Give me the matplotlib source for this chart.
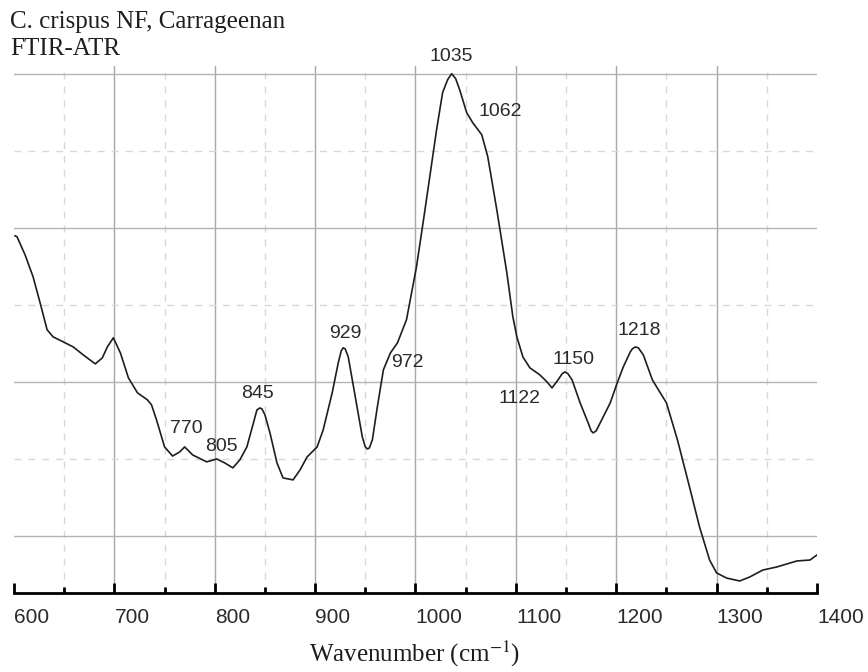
import matplotlib
matplotlib.use("Agg")
import matplotlib.pyplot as plt

# FTIR-ATR spectrum (wavenumber, arbitrary absorbance)
wavenumber = [601, 603, 611, 619, 626, 633, 639, 649, 659, 669, 681, 688, 693, 699,
              706, 714, 723, 733, 737, 742, 750, 758, 765, 770, 778, 792, 802, 810,
              818, 825, 832, 838, 842, 845, 847, 850, 855, 862, 868, 878, 885, 892,
              902, 908, 917, 923, 926, 928, 930, 933, 940, 947, 950, 952, 954, 957,
              962, 968, 975, 982, 991, 1001, 1009, 1021, 1027, 1032, 1036, 1040, 1044,
              1051, 1057, 1066, 1072, 1081, 1091, 1097, 1101, 1107, 1114, 1124, 1131,
              1136, 1142, 1146, 1149, 1152, 1156, 1164, 1172, 1175, 1177, 1180, 1184,
              1194, 1201, 1207, 1214, 1216, 1219, 1222, 1227, 1236, 1250, 1261, 1273,
              1283, 1293, 1300, 1310, 1323, 1333, 1346, 1360, 1380, 1393, 1400]
absorbance = [0.1948, 0.1942, 0.1825, 0.1682, 0.1513, 0.1338, 0.1292, 0.1260, 0.1227,
              0.1175, 0.1117, 0.1156, 0.1227, 0.1286, 0.1188, 0.1026, 0.0929, 0.0883,
              0.0851, 0.0753, 0.0578, 0.0519, 0.0545, 0.0578, 0.0526, 0.0481, 0.0500,
              0.0474, 0.0442, 0.0494, 0.0578, 0.0721, 0.0818, 0.0831, 0.0825, 0.0786,
              0.0669, 0.0474, 0.0377, 0.0364, 0.0429, 0.0513, 0.0578, 0.0688, 0.0929,
              0.1123, 0.1201, 0.1221, 0.1214, 0.1162, 0.0903, 0.0643, 0.0578, 0.0565,
              0.0571, 0.0623, 0.0838, 0.1078, 0.1188, 0.1253, 0.1403, 0.1747, 0.2097,
              0.2636, 0.2877, 0.2961, 0.3000, 0.2968, 0.2896, 0.2747, 0.2682, 0.2604,
              0.2461, 0.2117, 0.1708, 0.1422, 0.1292, 0.1162, 0.1091, 0.1045, 0.1000,
              0.0961, 0.1013, 0.1052, 0.1065, 0.1052, 0.1013, 0.0864, 0.0734, 0.0682,
              0.0669, 0.0682, 0.0734, 0.0864, 0.0994, 0.1097, 0.1195, 0.1214, 0.1227,
              0.1221, 0.1175, 0.1013, 0.0864, 0.0623, 0.0318, 0.0058, -0.0156, -0.0240,
              -0.0273, -0.0292, -0.0266, -0.0221, -0.0201, -0.0162, -0.0156, -0.0123]

# peak labels and where they sit
peak_labels = ["1035", "1062", "929", "972", "845", "770", "805", "1122", "1150", "1218"]
label_x = [1036, 1084, 930, 992, 843, 772, 807, 1104, 1157, 1223]
label_y = [0.311, 0.2753, 0.1312, 0.1123, 0.0922, 0.0695, 0.0578, 0.0890, 0.1143, 0.1331]

x_major = [600, 700, 800, 900, 1000, 1100, 1200, 1300, 1400]
x_minor = [650, 750, 850, 950, 1050, 1150, 1250, 1350]
y_major = [0.0, 0.1, 0.2, 0.3]
y_minor = [0.05, 0.15, 0.25]

plt.rcParams['mathtext.fontset'] = 'stix'

fig = plt.figure(figsize=(8.68, 6.72), dpi=100)
ax = fig.add_axes([14 / 868, 1 - 593 / 672, (817 - 14) / 868, (593 - 66) / 672])

# grid drawn by hand so the edges stay clear
for xv in x_major[1:-1]:
    ax.axvline(xv, color='#a8a8a8', lw=1.0, zorder=1)
for xv in x_minor:
    ax.axvline(xv, color='#d8d8d8', lw=1.0, ls=(0, (5, 5)), zorder=1)
for yv in y_major:
    ax.axhline(yv, color='#b4b4b4', lw=1.0, zorder=1)
for yv in y_minor:
    ax.axhline(yv, color='#d8d8d8', lw=1.0, ls=(0, (5, 5)), zorder=1)

ax.plot(wavenumber, absorbance, color='#1e1e1e', lw=1.2, zorder=3)

for lab, lx, ly in zip(peak_labels, label_x, label_y):
    ax.text(lx, ly, lab, ha='center', va='center', fontsize=14,
            family='Liberation Sans', color='#2a2a2a', clip_on=False)

ax.set_xlim(600, 1400)
ax.set_ylim(-0.037, 0.305)
ax.set_xticks(x_major)
ax.set_xticks(x_minor, minor=True)
ax.set_xticklabels([str(v) for v in x_major], family='Liberation Sans', fontsize=15,
                   color='#2a2a2a')
plt.setp(ax.get_xticklabels(), ha='left')
ax.tick_params(axis='x', which='major', direction='in', length=7, width=2, pad=11)
ax.tick_params(axis='x', which='minor', direction='in', length=4, width=2)
ax.set_yticks([])
for side in ['left', 'top', 'right']:
    ax.spines[side].set_visible(False)
ax.spines['bottom'].set_linewidth(2)

fig.text(10 / 868, 1 - 28 / 672, "C. crispus NF, Carrageenan", family='Liberation Serif',
         fontsize=18, va='baseline', color='#1e1e1e')
fig.text(10 / 868, 1 - 55 / 672, "FTIR-ATR", family='Liberation Serif',
         fontsize=18, va='baseline', color='#1e1e1e')
fig.text(415 / 868, 1 - 662 / 672, r"Wavenumber (cm$^{-1}$)", family='Liberation Serif',
         fontsize=18, ha='center', va='baseline', color='#1e1e1e')

fig.savefig("out.png", dpi=100)
